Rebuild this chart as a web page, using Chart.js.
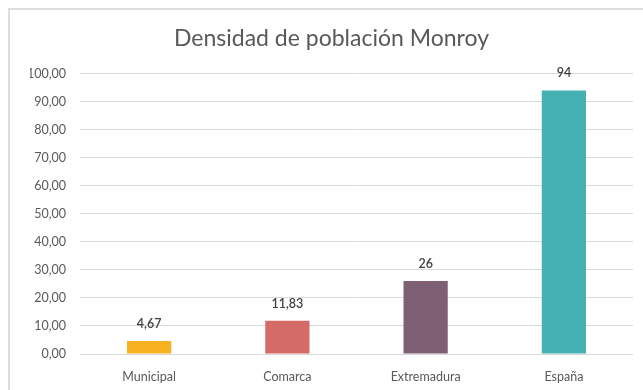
<!DOCTYPE html>
<html>
<head>
<meta charset="utf-8">
<script src="https://cdn.jsdelivr.net/npm/chart.js@4"></script>
<style>
  html, body { margin: 0; padding: 0; background: #fff; }
  #wrap { position: relative; width: 643px; height: 390px; overflow: hidden; }
  #frame {
    position: absolute; left: 8px; top: 8px; width: 700px; height: 450px;
    border: 2px solid #dedede; pointer-events: none;
  }
</style>
</head>
<body>
<div id="wrap">
  <canvas id="chart" width="643" height="390"></canvas>
  <div id="frame"></div>
</div>
<script>
// Densidad de población (hab/km²)
const categories = ['Municipal', 'Comarca', 'Extremadura', 'España'];
const densities = [4.67, 11.83, 26, 94];
const barColors = ['#f6b220', '#d56b66', '#7f5f74', '#46b1b2'];
const yTicks = { min: 0, max: 100, step: 10 };

const FONT = 'Lato, "Open Sans", sans-serif';

// Writes each value above its bar, with a decimal comma
const valueLabels = {
    id: 'valueLabels',
    afterDatasetsDraw(chart) {
        const { ctx } = chart;
        const meta = chart.getDatasetMeta(0);
        ctx.save();
        ctx.font = `600 12.5px ${FONT}`;
        ctx.fillStyle = '#404040';
        ctx.textAlign = 'center';
        ctx.textBaseline = 'middle';
        meta.data.forEach((bar, i) => {
            const txt = String(densities[i]).replace('.', ',');
            ctx.fillText(txt, bar.x, bar.y - 17);
        });
        ctx.restore();
    }
};

new Chart(document.getElementById('chart'), {
    type: 'bar',
    data: {
        labels: categories,
        datasets: [{
            data: densities,
            backgroundColor: barColors,
            borderWidth: 0,
            categoryPercentage: 1,
            barPercentage: 0.32
        }]
    },
    options: {
        responsive: false,
        animation: false,
        // left padding keeps the title centred on the framed area
        layout: { padding: { left: 30, right: 10, top: 0, bottom: 0 } },
        plugins: {
            legend: { display: false },
            tooltip: { enabled: false },
            title: {
                display: true,
                text: 'Densidad de población Monroy',
                color: '#595959',
                font: { family: FONT, size: 23, weight: 'normal' },
                padding: { top: 25, bottom: 21 }
            }
        },
        scales: {
            x: {
                grid: { display: false },
                border: { display: false },
                ticks: {
                    color: '#595959',
                    font: { family: FONT, size: 12.5 },
                    padding: 7
                },
                afterFit: scale => { scale.height = 36; }
            },
            y: {
                min: yTicks.min,
                max: yTicks.max,
                grid: { color: '#d9d9d9', lineWidth: 1, drawTicks: false },
                border: { display: false },
                ticks: {
                    stepSize: yTicks.step,
                    color: '#595959',
                    font: { family: FONT, size: 12.5 },
                    padding: 14,
                    callback: v => v.toFixed(2).replace('.', ',')
                },
                afterFit: scale => { scale.width = 50; }
            }
        }
    },
    plugins: [valueLabels]
});
</script>
</body>
</html>
